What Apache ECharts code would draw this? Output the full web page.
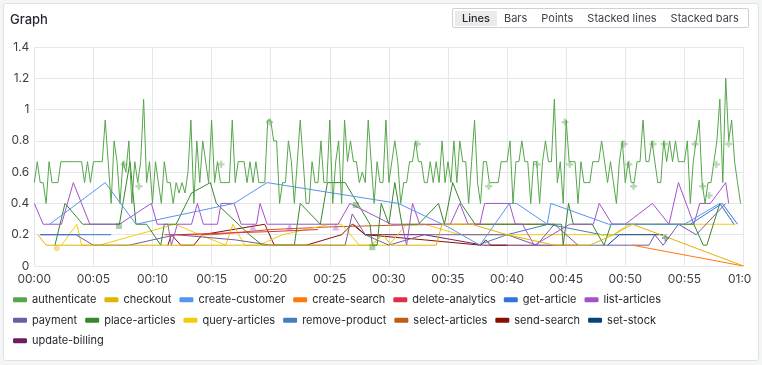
<!DOCTYPE html>
<html><head><meta charset="utf-8">
<script src="https://cdn.jsdelivr.net/npm/echarts@6/dist/echarts.min.js"></script>
<style>
html,body{margin:0;padding:0;background:#f4f5f5;font-family:Inter,"Noto Sans",sans-serif;}
#panel{position:absolute;left:3px;top:3px;width:756px;height:358px;background:#fff;border:1px solid #dfe1e4;border-radius:3px;box-sizing:border-box;}
#title{position:absolute;left:6px;top:7px;font-size:13px;font-weight:500;color:#24292f;}
#btns{position:absolute;left:448px;top:4px;height:20px;border:1px solid #cdd0d4;border-radius:2px;display:flex;align-items:center;padding:0 2px;box-sizing:border-box;font-size:11px;color:#3d434a;}
#btns span{padding:0 7px;line-height:15px;}
#btns span.sel{background:#ebebeb;color:#24292f;font-weight:500;}
#clip{position:absolute;left:0;top:0;width:748px;height:356px;overflow:hidden;}
#chart{position:absolute;left:-4px;top:-4px;width:762px;height:365px;}
</style></head>
<body>
<div id="panel">
  <div id="clip"><div id="chart"></div></div>
  <div id="title">Graph</div>
  <div id="btns"><span class="sel">Lines</span><span>Bars</span><span>Points</span><span>Stacked lines</span><span>Stacked bars</span></div>
</div>
<script>
// ---- data ----
const seriesNames = ['authenticate','checkout','create-customer','create-search','delete-analytics','get-article','list-articles','payment','place-articles','query-articles','remove-product','select-articles','send-search','set-stock','update-billing'];
const seriesColors = ['#56A64B','#E0B400','#5794F2','#FF780A','#E02F44','#3274D9','#A352CC','#705DA0','#37872D','#F2CC0C','#447EBC','#C15C17','#890F02','#0A437C','#6D1F62'];
const xTicks = [0,5,10,15,20,25,30,35,40,45,50,55,60];
const yTicks = [0,0.2,0.4,0.6,0.8,1,1.2,1.4];

// authenticate: one value every 15 s (0.25 min) starting at 00:00
const authenticate = [
0.533,0.667,0.533,0.533,0.4,0.667,0.533,0.533,0.533,0.667,
0.667,0.667,0.667,0.667,0.667,0.667,0.667,0.533,0.667,0.533,
0.667,0.667,0.667,0.667,0.933,0.667,0.4,0.8,0.667,0.4,
0.667,0.6,0.8,0.4,0.667,0.533,0.667,1.067,0.533,0.667,
0.4,0.667,0.533,0.4,0.667,0.533,0.533,0.4,0.533,0.467,
0.533,0.467,0.6,0.933,0.4,0.8,0.533,0.8,0.667,0.533,
0.933,0.533,0.667,0.533,0.533,0.533,0.533,0.933,0.533,0.667,
0.667,0.667,0.533,0.667,0.533,0.667,0.533,0.533,0.533,0.933,
0.933,0.8,0.8,0.4,0.533,0.533,0.8,0.667,0.4,0.667,
0.933,0.667,0.4,0.4,0.667,0.533,0.533,0.8,0.533,0.533,
0.933,0.4,0.667,0.8,0.4,0.933,0.667,0.8,0.667,0.667,
0.533,0.6,0.533,0.933,0.667,0.4,0.667,0.533,0.533,0.933,
0.533,0.667,0.8,0.667,0.4,0.533,0.533,0.667,0.667,0.8,
0.667,0.667,0.533,0.533,0.667,0.533,0.667,0.533,0.8,0.533,
0.667,0.533,0.8,0.533,0.8,0.667,0.667,0.4,0.667,0.933,
0.533,0.4,0.667,0.667,0.533,0.533,0.533,0.533,0.667,0.667,
0.667,0.8,0.4,0.667,0.667,0.8,0.667,0.667,0.4,0.667,
0.667,0.4,0.667,0.8,0.667,0.667,1.067,0.533,0.667,0.4,
0.933,0.667,0.667,0.667,0.4,0.667,0.533,0.533,0.533,0.667,
0.667,0.667,0.8,0.667,0.533,0.667,0.533,0.4,0.667,0.8,
0.533,0.667,0.533,0.533,0.667,0.667,0.933,0.667,0.667,0.8,
0.667,0.533,0.533,0.8,0.667,0.8,0.667,0.8,0.667,0.667,
0.667,0.8,0.4,0.667,0.8,0.933,0.533,0.4,0.533,0.533,
0.667,0.8,1.067,0.533,1.2,0.8,0.933,0.667,0.533,0.4];
const authStep = 0.25;

// other series: [minute, value]
const checkout = [[0.3,0.2],[1.0,0.133],[25,0.133],[28.5,0.133],[29.5,0.2],[30.2,0.133],[34,0.133],[34.5,0.267],[37,0.267],[40,0.2],[44,0.133],[47,0.133],[49,0.2],[50.6,0.267],[60,0]];
const createCustomer = [[1.3,0.267],[6,0.533],[8.6,0.267],[16.9,0.4],[19.7,0.533],[30.8,0.4],[35,0.25],[37.7,0.133],[40.2,0.4],[40.8,0.4],[43.4,0.267],[43.7,0.4],[48.6,0.267],[55,0.267],[58,0.4],[59.2,0.267]];
const createSearch = [[50.6,0.133],[60,0]];
const deleteAnalytics = [[12,0.2],[20,0.22],[24,0.233]];
const getArticle = [[0.5,0.2],[6.5,0.2],[null,null],[55.5,0.267],[58.2,0.4],[59.5,0.267]];
const listArticles = [[0,0.4],[0.75,0.267],[2.3,0.267],[3.3,0.533],[4.7,0.267],[7.2,0.267],[9.9,0.4],[10.4,0.267],[11.3,0.267],[11.6,0.133],[12.1,0.267],[13.3,0.267],[13.8,0.4],[14.3,0.267],[15.5,0.267],[15.8,0.4],[16.9,0.4],[17.5,0.267],[18.8,0.267],[19.1,0.4],[19.7,0.267],[25.7,0.267],[26.7,0.4],[30.2,0.267],[31.1,0.267],[31.5,0.133],[32,0.4],[32.6,0.267],[35.2,0.267],[36,0.4],[36.7,0.267],[37.7,0.267],[38.1,0.4],[40.2,0.4],[40.7,0.267],[41.3,0.267],[42.3,0.133],[43.8,0.2],[45.3,0.267],[47.3,0.267],[47.8,0.4],[48.9,0.267],[50,0.267],[52.3,0.4],[53.7,0.267],[54.5,0.533],[55.8,0.267],[56.3,0.4],[57.2,0.4],[58.5,0.533],[58.75,0.4]];
const payment = [[0.5,0.2],[3.5,0.2],[5,0.133],[8,0.133],[12,0.2],[17,0.167],[20,0.133],[26.3,0.133],[26.9,0.333],[28,0.2],[30,0.133],[33,0.2],[40,0.2],[42.5,0.133],[44,0.267],[46,0.133],[52,0.133],[52.5,0.2],[53.2,0.133],[54.5,0.267],[56,0.2],[58.5,0.4]];
const placeArticles = [[1.75,0.133],[2.6,0.4],[4.1,0.267],[7.2,0.267],[8.1,0.667],[8.6,0.267],[9.5,0.267],[10.7,0.133],[11,0.267],[12,0.267],[13.3,0.467],[14.9,0.533],[15.4,0.4],[18.2,0.2],[19.3,0.133],[22,0.133],[22.5,0.4],[24.2,0.267],[24.8,0.533],[26.3,0.533],[28.4,0.267],[28.6,0.133],[29,0.133],[29.35,0.4],[30,0.267],[30.5,0.533],[31.1,0.267],[32.5,0.267],[34.2,0.4],[34.7,0.267],[35.4,0.533],[36.1,0.4],[37.3,0.267],[44.6,0.267],[44.75,0.133],[45.2,0.4],[45.6,0.267],[47.2,0.267],[48.2,0.133],[48.8,0.267],[55.8,0.267],[56.6,0.133],[56.9,0.133],[58,0.4],[59.2,0.267]];
const queryArticles = [[2.3,0.133],[3.6,0.267],[4.0,0.133],[5.5,0.133],[11.9,0.267],[14,0.2],[16.2,0.133],[16.8,0.267],[17.8,0.133],[19,0.133],[21,0.2],[25,0.267],[26,0.267],[27.5,0.133],[30,0.133],[31.5,0.267],[33,0.267],[36,0.2],[45,0.2],[49,0.2],[50.3,0.267],[59.3,0.267]];
const removeProduct = [[37.5,0.133],[40,0.2],[43.5,0.267],[48,0.2],[49.5,0.2]];
const selectArticles = [[11,0.2],[15,0.2],[20,0.233],[25,0.25],[30,0.26],[35,0.267],[40,0.267],[44,0.267]];
const sendSearch = [[11.3,0.133],[11.6,0.2],[12.4,0.133],[13.5,0.133],[14.2,0.2],[19.5,0.267],[20.3,0.133],[23,0.133],[26,0.2],[26.9,0.267],[28,0.2],[33,0.167],[37.8,0.133],[38.2,0.167],[38.6,0.133],[40,0.133]];
const setStock = [[48.5,0.133],[49.5,0.2],[53.2,0.2]];
const updateBilling = [[27,0.267],[28,0.2],[33,0.2],[38,0.133],[40,0.133],[46,0.133]];

// isolated points (drawn as symbols)
const authIsolated = [[7.6,0.65],[8.85,0.51],[15.8,0.65],[19.9,0.92],[32.4,0.78],[38.45,0.51],[42.55,0.65],[44.9,0.92],[45.3,0.65],[49.9,0.78],[50.3,0.65],[50.7,0.51],[52.35,0.78],[53.3,0.78],[55.9,0.78],[56.55,0.51],[57.1,0.45],[57.7,0.65],[58.75,0.78]];
const checkoutIsolated = [[1.9,0.113]];
const placeIsolated = [[7.16,0.256],[27.2,0.39],[28.6,0.12]];
const listIsolated = [[18.5,0.25],[21.6,0.25],[25.5,0.25]];
const setStockIsolated = [[53.4,0.18]];

// ---- build ----
const lineData = {
  'authenticate': authenticate.map((v,i)=>[i*authStep, v]),
  'checkout': checkout, 'create-customer': createCustomer, 'create-search': createSearch,
  'delete-analytics': deleteAnalytics, 'get-article': getArticle, 'list-articles': listArticles,
  'payment': payment, 'place-articles': placeArticles, 'query-articles': queryArticles,
  'remove-product': removeProduct, 'select-articles': selectArticles, 'send-search': sendSearch,
  'set-stock': setStock, 'update-billing': updateBilling
};
const pad = n => (n<10?'0':'')+n;
const series = seriesNames.map((n,k)=>({
  name:n, type:'line', data:lineData[n], showSymbol:false, symbol:'none',
  lineStyle:{width:1, color:seriesColors[k]}, itemStyle:{color:seriesColors[k]},
  connectNulls:false, animation:false, z: 20-k
}));
const plus = 'path://M2,0H4V2H6V4H4V6H2V4H0V2H2Z';
function iso(data, color, symbol, size){
  return {name:'_iso', type:'scatter', data:data, symbol:symbol, symbolSize:size,
    itemStyle:{color:color, opacity:0.42}, animation:false, silent:true, z:25};
}
series.push(iso(authIsolated, seriesColors[0], plus, 7));
series.push(iso(checkoutIsolated, seriesColors[1], 'circle', 6));
series.push(iso(placeIsolated, seriesColors[8], 'rect', 6));
series.push(iso(listIsolated, seriesColors[6], 'triangle', 7));
series.push(iso(setStockIsolated, seriesColors[13], plus, 7));

const chart = echarts.init(document.getElementById('chart'), null, {renderer:'canvas'});
chart.setOption({
  animation:false,
  color: seriesColors,
  grid:{left:34.3, right:15.3, top:47, bottom:99, containLabel:false},
  xAxis:{type:'value', min:xTicks[0], max:xTicks[xTicks.length-1], interval:5,
    axisLine:{show:false}, axisTick:{show:false},
    splitLine:{show:true, lineStyle:{color:'#e6e7e8'}},
    axisLabel:{color:'#3a3f45', fontSize:12, fontFamily:'Inter', margin:7, showMaxLabel:true,
      formatter:v=>pad(Math.floor(v/60))+':'+pad(v%60)}},
  yAxis:{type:'value', min:yTicks[0], max:yTicks[yTicks.length-1], interval:0.2,
    axisLine:{show:false}, axisTick:{show:false},
    splitLine:{show:true, lineStyle:{color:'#e6e7e8'}},
    axisLabel:{color:'#3a3f45', fontSize:12, fontFamily:'Inter', margin:5,
      formatter:v=>String(Math.round(v*10)/10)}},
  legend:{data:seriesNames, left:13, top:293.5, padding:0, width:690, icon:'roundRect', itemWidth:14, itemHeight:5,
    itemGap:8, textStyle:{fontSize:11, fontFamily:'Inter', color:'#24292f', lineHeight:12.5}},
  series: series
});
</script>
</body></html>
